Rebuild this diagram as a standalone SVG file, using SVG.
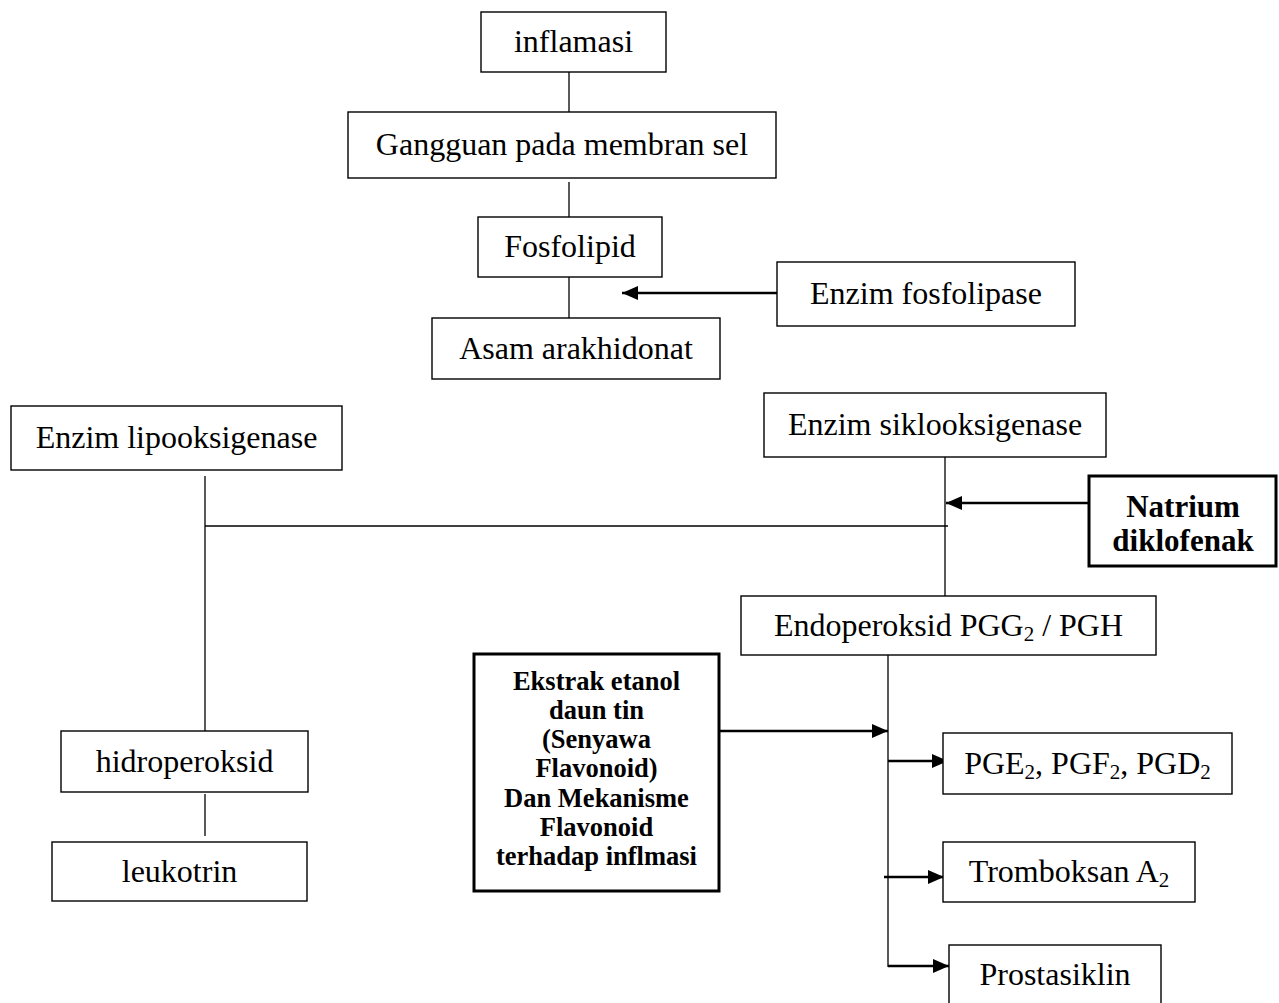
<svg xmlns="http://www.w3.org/2000/svg" width="1279" height="1003" viewBox="0 0 1279 1003">
<style>
.box{fill:#fff;stroke:#000;stroke-width:1.4}
.bold-box{fill:#fff;stroke:#000;stroke-width:3}
.t{font-family:"Liberation Serif","Times New Roman",serif;font-size:32px;fill:#000;text-anchor:middle}
.tb{font-family:"Liberation Serif","Times New Roman",serif;font-weight:bold;fill:#000;text-anchor:middle}
.ln{stroke:#000;stroke-width:1.3;fill:none}
.ar{stroke:#000;stroke-width:2.6;fill:none;marker-end:url(#ah)}
</style>
<defs>
<marker id="ah" markerUnits="userSpaceOnUse" markerWidth="16" markerHeight="14" refX="16" refY="7" orient="auto">
<path d="M0,0 L16,7 L0,14 z" fill="#000"/>
</marker>
</defs>
<rect width="1279" height="1003" fill="#fff"/>
<g id="connectors">
<line class="ln" x1="569" y1="72" x2="569" y2="112"/>
<line class="ln" x1="569" y1="182" x2="569" y2="217"/>
<line class="ln" x1="569" y1="277" x2="569" y2="318"/>
<line class="ln" x1="205" y1="476" x2="205" y2="731"/>
<line class="ln" x1="205" y1="526" x2="948" y2="526"/>
<line class="ln" x1="945" y1="457" x2="945" y2="596"/>
<line class="ln" x1="205" y1="794" x2="205" y2="836"/>
<line class="ln" x1="888" y1="655" x2="888" y2="967"/>
<line class="ar" x1="777" y1="293" x2="622" y2="293"/>
<line class="ar" x1="1088" y1="503" x2="946" y2="503"/>
<line class="ar" x1="719" y1="731" x2="888" y2="731"/>
<line class="ar" x1="888" y1="761" x2="948" y2="761"/>
<line class="ar" x1="884" y1="877" x2="944" y2="877"/>
<line class="ar" x1="888" y1="966" x2="949" y2="966"/>
</g>
<g id="inflamasi"><rect class="box" x="481" y="12" width="185" height="60"/><text class="t" x="573.5" y="52">inflamasi</text></g>
<g id="gangguan"><rect class="box" x="348" y="112" width="428" height="66"/><text class="t" x="562" y="155">Gangguan pada membran sel</text></g>
<g id="fosfolipid"><rect class="box" x="478" y="217" width="184" height="60"/><text class="t" x="570" y="257">Fosfolipid</text></g>
<g id="asam"><rect class="box" x="432" y="318" width="288" height="61"/><text class="t" x="576" y="359">Asam arakhidonat</text></g>
<g id="fosfolipase"><rect class="box" x="777" y="262" width="298" height="64"/><text class="t" x="926" y="304">Enzim fosfolipase</text></g>
<g id="lipooksigenase"><rect class="box" x="11" y="406" width="331" height="64"/><text class="t" x="176.5" y="448">Enzim lipooksigenase</text></g>
<g id="siklooksigenase"><rect class="box" x="764" y="393" width="342" height="64"/><text class="t" x="935" y="435">Enzim siklooksigenase</text></g>
<g id="natrium"><rect class="bold-box" x="1089" y="476" width="187" height="90"/><text class="tb" font-size="31" x="1183" y="517">Natrium</text><text class="tb" font-size="31" x="1183" y="551">diklofenak</text></g>
<g id="endoperoksid"><rect class="box" x="741" y="596" width="415" height="59"/><text class="t" x="948.5" y="636">Endoperoksid PGG<tspan font-size="21" dy="5">2</tspan><tspan dy="-5"> / PGH</tspan></text></g>
<g id="ekstrak"><rect class="bold-box" x="474" y="654" width="245" height="237"/>
<text class="tb" font-size="26.5" x="596.5"><tspan x="596.5" y="690">Ekstrak etanol</tspan><tspan x="596.5" y="719">daun tin</tspan><tspan x="596.5" y="748">(Senyawa</tspan><tspan x="596.5" y="777">Flavonoid)</tspan><tspan x="596.5" y="806.5">Dan Mekanisme</tspan><tspan x="596.5" y="835.5">Flavonoid</tspan><tspan x="596.5" y="865">terhadap inflmasi</tspan></text></g>
<g id="pge"><rect class="box" x="943" y="733" width="289" height="61"/><text class="t" x="1087.5" y="774">PGE<tspan font-size="21" dy="5">2</tspan><tspan dy="-5">, PGF</tspan><tspan font-size="21" dy="5">2</tspan><tspan dy="-5">, PGD</tspan><tspan font-size="21" dy="5">2</tspan></text></g>
<g id="tromboksan"><rect class="box" x="943" y="842" width="252" height="60"/><text class="t" x="1069" y="882">Tromboksan A<tspan font-size="21" dy="5">2</tspan></text></g>
<g id="prostasiklin"><rect class="box" x="949" y="945" width="212" height="64"/><text class="t" x="1055" y="985">Prostasiklin</text></g>
<g id="hidroperoksid"><rect class="box" x="61" y="731" width="247" height="61"/><text class="t" x="184.5" y="772">hidroperoksid</text></g>
<g id="leukotrin"><rect class="box" x="52" y="842" width="255" height="59"/><text class="t" x="179.5" y="882">leukotrin</text></g>
</svg>
